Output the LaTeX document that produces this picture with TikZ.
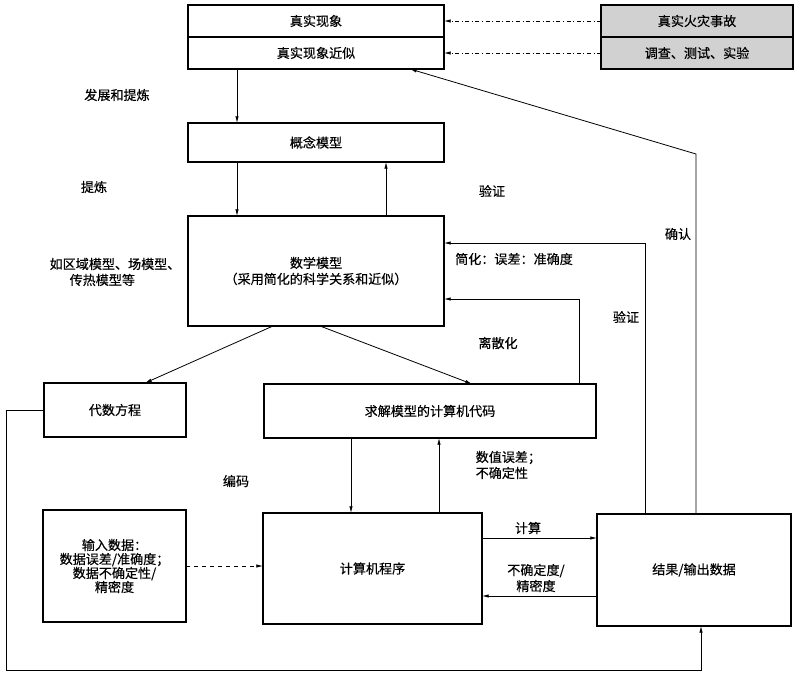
\documentclass[tikz,border=0pt]{standalone}
\usepackage{fontspec}
\setmainfont{Noto Sans CJK SC}[FakeBold=0.4]
\usetikzlibrary{arrows.meta,positioning,calc}
\newlength{\pxu}
\setlength{\pxu}{0.75pt}
\colorlet{shade}{black!18}

\begin{document}
\begin{tikzpicture}[x=0.75pt,y=-0.75pt,font=\fontsize{9.8}{12}\selectfont,
    b/.style={draw,line width=0.9pt,outer sep=0pt,inner sep=2pt,align=center},
    ar/.style={-{Latex[length=5pt,width=2.6pt]},line width=0.6pt}]
  \useasboundingbox (0,0) rectangle (800,682);
  % top row
  \node[b,minimum width=256*\pxu,minimum height=32*\pxu] (real) at (316,21) {真实现象};
  \node[b,minimum width=256*\pxu,minimum height=32*\pxu,below=0pt of real] (approx) {真实现象近似};
  \node[b,fill=shade,minimum width=192*\pxu,minimum height=32*\pxu] (fire) at (697,21) {真实火灾事故};
  \node[b,fill=shade,minimum width=192*\pxu,minimum height=32*\pxu,below=0pt of fire] (test) {调查、测试、实验};
  % models
  \node[b,minimum width=256*\pxu,minimum height=39*\pxu] (concept) at (316,142.5) {概念模型};
  \node[b,minimum width=256*\pxu,minimum height=110*\pxu] (math) at (316,271)
    {数学模型\\（采用简化的科学关系和近似）};
  \node[b,minimum width=142*\pxu,minimum height=54*\pxu] (alg) at (115,410) {代数方程};
  \node[b,minimum width=332*\pxu,minimum height=54*\pxu] (code) at (430,411) {求解模型的计算机代码};
  % bottom row
  \node[b,minimum width=143*\pxu,minimum height=112*\pxu,font=\fontsize{9.8}{10.5}\selectfont] (input) at (114.5,566)
    {输入数据：\\数据误差/准确度；\\数据不确定性/\\精密度};
  \node[b,minimum width=219*\pxu,minimum height=111*\pxu] (prog) at (372.5,568.5) {计算机程序};
  \node[b,minimum width=194*\pxu,minimum height=112*\pxu] (res) at (694,570) {结果/输出数据};

  % helper coordinates
  \coordinate (xa) at (237,0);  \coordinate (xb) at (386,0);
  \coordinate (xc) at (351,0);  \coordinate (xd) at (439,0);
  \coordinate (xe) at (579,0);  \coordinate (xf) at (645,0);
  \coordinate (xg) at (696,0);  \coordinate (xh) at (701,0);
  \coordinate (xl) at (6,0);    \coordinate (yb) at (0,670);
  \coordinate (ya) at (0,538);  \coordinate (yr) at (0,596);
  \coordinate (ym1) at (0,243); \coordinate (ym2) at (0,299);
  \coordinate (kink) at (696,154);

  % connectors
  \draw[ar,dash dot] (fire) -- (real);
  \draw[ar,dash dot] (test) -- (approx);
  \draw[ar] (approx.south -| xa) -- (concept.north -| xa);
  \draw[ar] (concept.south -| xa) -- (math.north -| xa);
  \draw[ar] (math.north -| xb) -- (concept.south -| xb);
  \draw[ar] ([xshift=-43*\pxu]math.south) -- ([xshift=30*\pxu]alg.north);
  \draw[ar] ([xshift=4*\pxu]math.south) -- ([xshift=42*\pxu]code.north);
  \draw[ar] (code.south -| xc) -- (prog.north -| xc);
  \draw[ar] (prog.north -| xd) -- (code.south -| xd);
  \draw[ar,dashed] (input.east) -- (input.east -| prog.west);
  \draw[ar] (prog.east |- ya) -- (res.west |- ya);
  \draw[ar] (res.west |- yr) -- (prog.east |- yr);
  \draw[ar] (code.north -| xe) |- (math.east |- ym2);
  \draw[ar] (res.north -| xf) |- (math.east |- ym1);
  \draw[ar] (res.north -| xg) -- (kink) -- ([xshift=94*\pxu]approx.south);
  \draw[ar] (alg.west) -| (xl |- yb) -| (res.south -| xh);

  % labels
  \node (dev) at (117,95) {发展和提炼};
  \node (refine) at (94,187) {提炼};
  \node (ver1) at (492,191) {验证};
  \node[align=left] (kinds) at (115,272) {如区域模型、场模型、\\\hspace*{20\pxu}传热模型等};
  \node (simp) at (514,259) {简化：误差：准确度};
  \node (conf) at (678,234) {确认};
  \node (ver2) at (626,317) {验证};
  \node (disc) at (498,343) {离散化};
  \node (enc) at (236,481) {编码};
  \node[align=left,anchor=west] (numerr) at (471,465) {数值误差；\\不确定性};
  \node (calc) at (528,528) {计算};
  \node[align=center] (unc) at (536,578) {不确定度/\\精密度};
\end{tikzpicture}
\end{document}
